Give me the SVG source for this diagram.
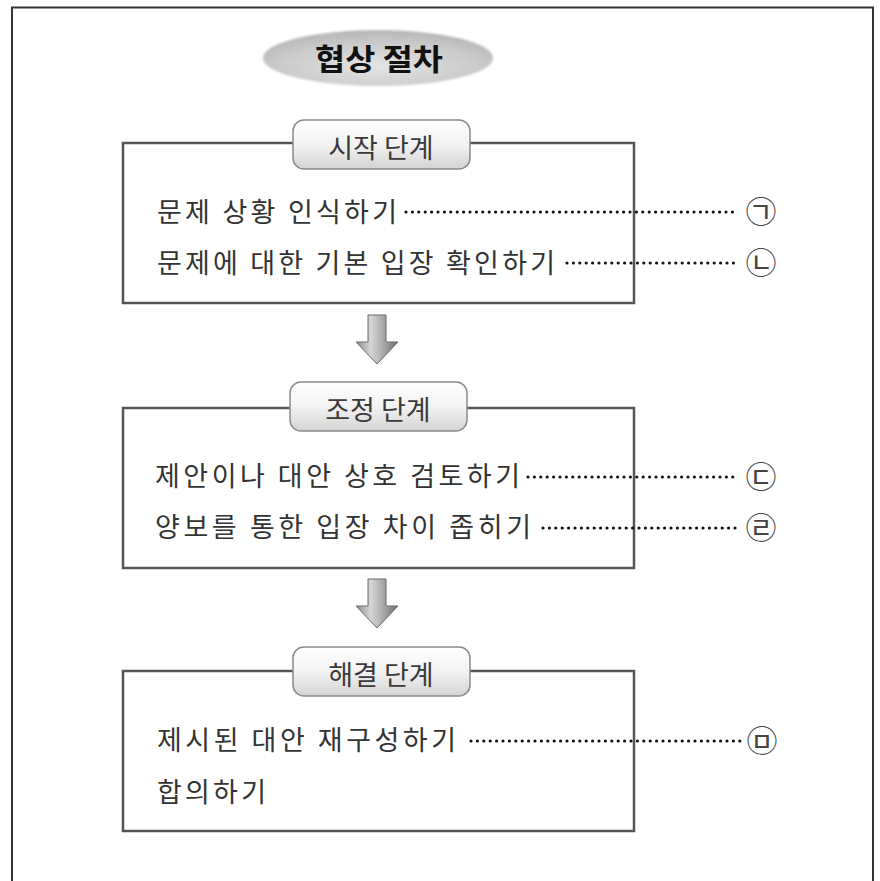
<svg xmlns="http://www.w3.org/2000/svg" width="880" height="881" viewBox="0 0 880 881">
<style>
  .frame { fill: none; stroke: #333; stroke-width: 2; }
  .box { fill: #fff; stroke: #555; stroke-width: 2.5; }
  .tab { fill: url(#tabGrad); stroke: #8a8a8a; stroke-width: 1.5; }
  .tabtxt { font-family: "Noto Sans CJK KR", "Noto Sans", sans-serif; font-size: 27px; fill: #3a3a3a; text-anchor: middle; }
  .item { font-family: "Noto Sans CJK KR", "Noto Sans", sans-serif; font-size: 27px; fill: #333; }
  .mark { font-family: "Noto Sans CJK KR", "Noto Sans", sans-serif; font-size: 31px; fill: #444; text-anchor: middle; }
  .dots { fill: none; stroke: #111; stroke-width: 3.2; stroke-linecap: round; stroke-dasharray: 0 6.4; }
  .arrow { fill: url(#arrowGrad); stroke: #6a6a6a; stroke-width: 1; }
  .title { font-family: "Noto Sans CJK KR", "Noto Sans", sans-serif; font-size: 30px; font-weight: bold; fill: #111; text-anchor: middle; }
</style>
<defs>
  <linearGradient id="tabGrad" x1="0" y1="0" x2="0" y2="1">
    <stop offset="0" stop-color="#ffffff"/>
    <stop offset="0.5" stop-color="#f2f2f2"/>
    <stop offset="1" stop-color="#d4d4d4"/>
  </linearGradient>
  <linearGradient id="arrowGrad" x1="0" y1="0" x2="1" y2="0">
    <stop offset="0" stop-color="#8a8a8a"/>
    <stop offset="0.35" stop-color="#d6d6d6"/>
    <stop offset="0.6" stop-color="#b0b0b0"/>
    <stop offset="1" stop-color="#6e6e6e"/>
  </linearGradient>
  <radialGradient id="titleGrad" cx="0.5" cy="0.65" r="0.6">
    <stop offset="0" stop-color="#e4e4e4"/>
    <stop offset="0.7" stop-color="#cbcbcb"/>
    <stop offset="1" stop-color="#b9b9b9"/>
  </radialGradient>
  <filter id="soft" x="-10%" y="-20%" width="120%" height="140%">
    <feGaussianBlur stdDeviation="1.2"/>
  </filter>
</defs>

<rect width="880" height="881" fill="#fff"/>
<path class="frame" d="M12,881 V7.5 H873 V881"/>

<g id="title">
  <ellipse cx="378" cy="58" rx="115" ry="28" fill="url(#titleGrad)" filter="url(#soft)"/>
  <text class="title" x="379" y="70" textLength="128" lengthAdjust="spacingAndGlyphs">협상 절차</text>
</g>

<g id="stage-start">
  <rect class="box" x="123" y="143" width="511" height="160"/>
  <rect class="tab" x="293" y="120" width="177" height="49" rx="11"/>
  <text class="tabtxt" x="381" y="158">시작 단계</text>
  <text class="item" x="157" y="222" textLength="240" lengthAdjust="spacing">문제 상황 인식하기</text>
  <text class="item" x="157" y="273" textLength="398" lengthAdjust="spacing">문제에 대한 기본 입장 확인하기</text>
  <text class="mark" x="761" y="223">㉠</text>
  <text class="mark" x="761" y="274">㉡</text>
</g>

<g id="stage-adjust">
  <rect class="box" x="123" y="408" width="511" height="160"/>
  <rect class="tab" x="290" y="382" width="177" height="49" rx="11"/>
  <text class="tabtxt" x="378" y="420">조정 단계</text>
  <text class="item" x="155" y="486" textLength="365" lengthAdjust="spacing">제안이나 대안 상호 검토하기</text>
  <text class="item" x="155" y="537" textLength="376" lengthAdjust="spacing">양보를 통한 입장 차이 좁히기</text>
  <text class="mark" x="761" y="488">㉢</text>
  <text class="mark" x="761" y="539">㉣</text>
</g>

<g id="stage-resolve">
  <rect class="box" x="123" y="671" width="511" height="160"/>
  <rect class="tab" x="293" y="647" width="177" height="49" rx="11"/>
  <text class="tabtxt" x="381" y="685">해결 단계</text>
  <text class="item" x="157" y="750" textLength="299" lengthAdjust="spacing">제시된 대안 재구성하기</text>
  <text class="item" x="157" y="802" textLength="109" lengthAdjust="spacing">합의하기</text>
  <text class="mark" x="762" y="752">㉤</text>
</g>

<g id="connectors">
  <path class="arrow" d="M368,315 H386 V342 H398 L377,364 L356,342 H368 Z"/>
  <path class="arrow" d="M368,579 H386 V606 H398 L377,628 L356,606 H368 Z"/>
  <path class="dots" d="M406,212 H738"/>
  <path class="dots" d="M567,263 H738"/>
  <path class="dots" d="M528,477 H738"/>
  <path class="dots" d="M543,528 H738"/>
  <path class="dots" d="M471,741 H740"/>
</g>
</svg>
